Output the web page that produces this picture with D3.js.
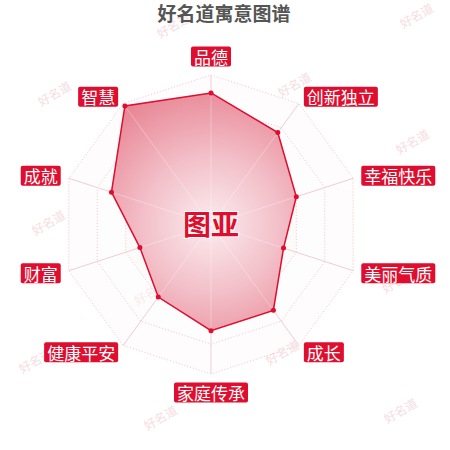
<!DOCTYPE html>
<html>
<head>
<meta charset="utf-8">
<script src="https://cdn.jsdelivr.net/npm/d3@7"></script>
<style>
  body { margin: 0; background: #fff; }
  svg { display: block; font-family: "Noto Sans CJK SC", "Noto Sans", sans-serif; }
</style>
</head>
<body>
<svg id="chart" width="450" height="450"></svg>
<script>
// Axis names, clockwise from the top
const indicators = ["品德", "创新独立", "幸福快乐", "美丽气质", "成长", "家庭传承", "健康平安", "财富", "成就", "智慧"];
// Values on a 0..100 scale
const scores = [88, 76, 60, 51, 71, 71, 60, 50, 70, 98];
const maxScore = 100;
const titleText = "好名道寓意图谱";
const nameText = "图亚";
// Watermark positions (x, y)
const marksX = [173, 416, 54, 294, 412, 48, 398, 282, 35, 160, 400, 150];
const marksY = [25, 15, 93, 84, 141, 222, 280, 352, 360, 417, 410, 292];

const svg = d3.select("#chart");
const cx = 211, cy = 224.5, radius = 149.5;
const red = "#df0d2e";

const defs = svg.append("defs");
const grad = defs.append("radialGradient")
    .attr("id", "areaGrad")
    .attr("gradientUnits", "userSpaceOnUse")
    .attr("cx", 0).attr("cy", 0).attr("r", radius);
grad.append("stop").attr("offset", "0%").attr("stop-color", "#fbecef");
grad.append("stop").attr("offset", "45%").attr("stop-color", "#f3c0c9");
grad.append("stop").attr("offset", "100%").attr("stop-color", "#e7808f");

const rScale = d3.scaleLinear().domain([0, maxScore]).range([0, radius]);
const angle = d3.scaleLinear().domain([0, indicators.length]).range([0, 2 * Math.PI]);

// watermarks
svg.append("g").selectAll("text")
    .data(marksX)
    .enter()
    .append("text")
    .attr("transform", (d, i) => `translate(${d},${marksY[i]}) rotate(-30)`)
    .attr("text-anchor", "middle")
    .attr("dominant-baseline", "central")
    .style("font-size", "12px")
    .style("fill", "#f6dce2")
    .style("font-family", "'Noto Sans CJK SC'")
    .text("好名道");

const g = svg.append("g").attr("transform", `translate(${cx},${cy})`);

// grid rings
const rings = d3.range(1, 6).map(k => k * maxScore / 5);
const ringLine = d3.lineRadial()
    .angle((d, i) => angle(i))
    .curve(d3.curveLinearClosed);

g.selectAll(".band")
    .data(rings.slice().reverse())
    .enter()
    .append("path")
    .attr("d", v => ringLine.radius(rScale(v))(indicators))
    .style("fill", (v, i) => i % 2 === 0 ? "rgba(243,190,203,0.05)" : "rgba(255,255,255,0.4)")
    .style("stroke", "#f0c3ce")
    .style("stroke-width", 1)
    .style("stroke-dasharray", "1,2");

// spokes
g.selectAll(".spoke")
    .data(indicators)
    .enter()
    .append("line")
    .attr("x1", 0).attr("y1", 0)
    .attr("x2", (d, i) => rScale(maxScore) * Math.sin(angle(i)))
    .attr("y2", (d, i) => -rScale(maxScore) * Math.cos(angle(i)))
    .style("stroke", "#f2ccd5")
    .style("stroke-width", 1);

// data area
const areaLine = d3.lineRadial()
    .angle((d, i) => angle(i))
    .radius(d => rScale(d))
    .curve(d3.curveLinearClosed);

g.append("path")
    .attr("d", areaLine(scores))
    .style("fill", "url(#areaGrad)")
    .style("stroke", red)
    .style("stroke-width", 1.5);

// spokes faintly visible through the area
g.selectAll(".spokeIn")
    .data(indicators)
    .enter()
    .append("line")
    .attr("x1", 0).attr("y1", 0)
    .attr("x2", (d, i) => rScale(scores[i]) * Math.sin(angle(i)))
    .attr("y2", (d, i) => -rScale(scores[i]) * Math.cos(angle(i)))
    .style("stroke", "#fff")
    .style("stroke-opacity", 0.3)
    .style("stroke-width", 1);

g.selectAll(".dot")
    .data(scores)
    .enter()
    .append("circle")
    .attr("cx", (d, i) => rScale(d) * Math.sin(angle(i)))
    .attr("cy", (d, i) => -rScale(d) * Math.cos(angle(i)))
    .attr("r", 2.5)
    .style("fill", red);

// axis name labels in red boxes
const gap = 158;
const labels = g.selectAll(".label")
    .data(indicators)
    .enter()
    .append("g");

labels.each(function(d, i) {
    const a = angle(i);
    const s = Math.sin(a), c = Math.cos(a);
    const px = gap * s, py = -gap * c;
    const node = d3.select(this);
    const txt = node.append("text")
        .style("font-size", "17px")
        .style("fill", "#fff")
        .attr("dominant-baseline", "central")
        .text(d);
    const w = txt.node().getComputedTextLength() + 6;
    const h = 20;
    let bx, by;
    if (Math.abs(s) < 0.01) bx = px - w / 2;
    else if (s > 0) bx = px;
    else bx = px - w;
    if (Math.abs(s) < 0.01) by = c > 0 ? py - h : py;
    else by = py - h / 2;
    node.insert("rect", "text")
        .attr("x", bx).attr("y", by)
        .attr("width", w).attr("height", h)
        .attr("rx", 2)
        .style("fill", red);
    txt.attr("x", bx + 3).attr("y", by + h / 2);
});

// centre name
g.append("text")
    .attr("x", 0).attr("y", -2)
    .attr("text-anchor", "middle")
    .attr("dominant-baseline", "central")
    .style("font-size", "28px")
    .style("font-weight", "bold")
    .style("fill", red)
    .style("stroke", "#fff")
    .style("stroke-width", 2)
    .style("paint-order", "stroke")
    .text(nameText);

// title
svg.append("text")
    .attr("x", 224).attr("y", 12)
    .attr("text-anchor", "middle")
    .attr("dominant-baseline", "central")
    .style("font-size", "19px")
    .style("font-weight", "bold")
    .style("fill", "#555")
    .text(titleText);
</script>
</body>
</html>
